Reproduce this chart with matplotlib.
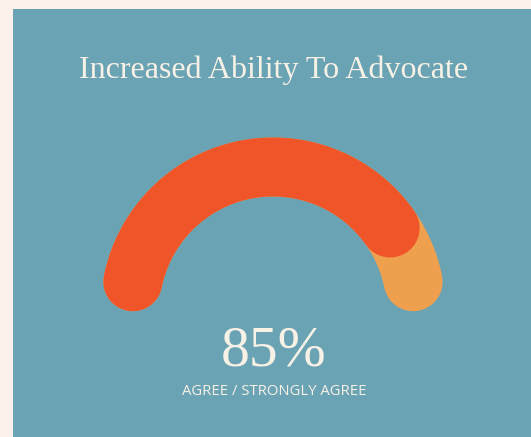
import numpy as np
import matplotlib
matplotlib.use("Agg")
import matplotlib.pyplot as plt
from matplotlib.patches import Rectangle

# data
title = "Increased Ability To Advocate"
value = 85
total = 100
label = "AGREE / STRONGLY AGREE"

# colours
cream = "#fcf1ea"
teal = "#6aa3b4"
red = "#f0552a"
light = "#eea04e"
text_col = "#f8f1e6"

fig = plt.figure(figsize=(5.31, 4.37), dpi=100, facecolor=cream)
ax = fig.add_axes([0, 0, 1, 1])
ax.set_xlim(0, 531)
ax.set_ylim(437, 0)
ax.axis("off")

# panel
ax.add_patch(Rectangle((13, 9), 518, 428, facecolor=teal, edgecolor="none"))

# gauge geometry
cx, cy, r = 273, 310, 143
start, end = 168.6, 11.4   # degrees, left to right
lw = 59 * 72 / 100

def arc(a0, a1, color):
    t = np.radians(np.linspace(a0, a1, 200))
    ax.plot(cx + r * np.cos(t), cy - r * np.sin(t), color=color, lw=lw,
            solid_capstyle="round")

frac = value / total
arc(start, end, light)
arc(start, start + (end - start) * frac, red)

ax.text(274, 78, title, ha="center", va="baseline", color=text_col,
        fontsize=23, family="Liberation Serif")
ax.text(274, 365, f"{value}%", ha="center", va="baseline", color=text_col,
        fontsize=41.5, family="Liberation Serif")
ax.text(274, 395, label, ha="center", va="baseline", color=text_col,
        fontsize=10.7, family="Open Sans")

fig.savefig("out.png", dpi=100, facecolor=cream)
